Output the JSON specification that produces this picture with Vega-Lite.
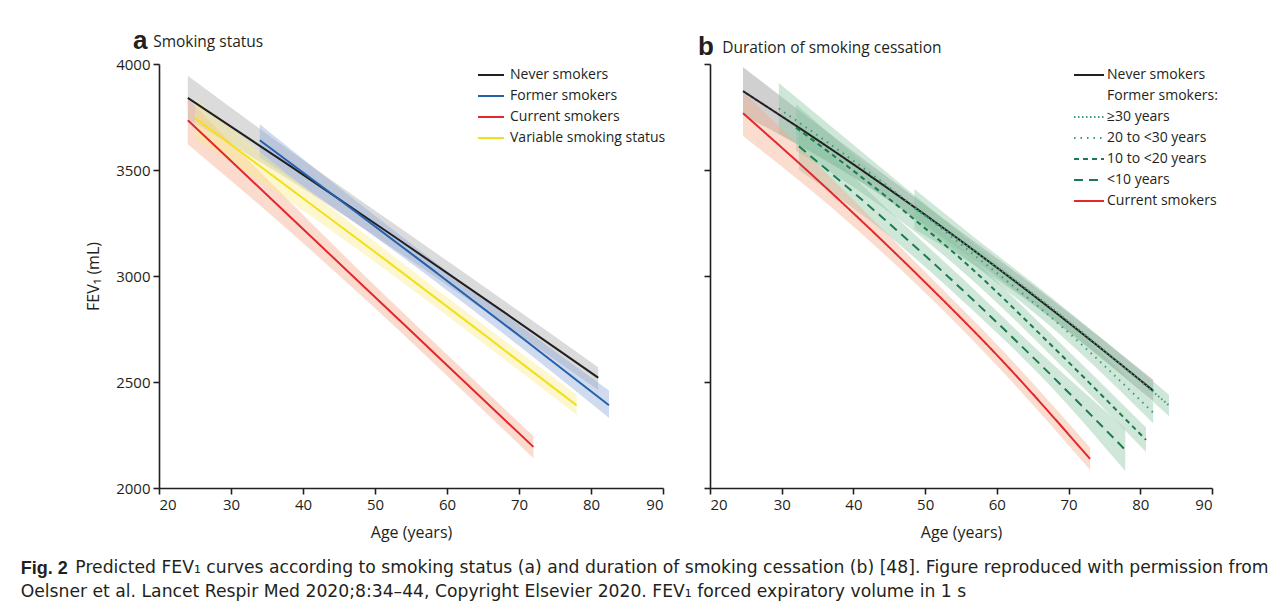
{
  "$schema": "https://vega.github.io/schema/vega-lite/v6.json",
  "padding": {"left": 20, "top": 28, "right": 5, "bottom": 5},
  "config": {
    "font": "Open Sans",
    "view": {"stroke": null},
    "axis": {"grid": false, "domainColor": "#231f20", "domainWidth": 1.6, "tickColor": "#231f20", "tickWidth": 1.6, "tickSize": 6, "labelFont": "Open Sans", "labelFontSize": 15, "labelColor": "#231f20", "titleFont": "Open Sans", "titleFontSize": 16, "titleFontWeight": "normal", "titleColor": "#231f20"},
    "legend": {"labelFont": "Open Sans", "labelFontSize": 14, "labelColor": "#231f20", "symbolSize": 100, "symbolStrokeWidth": 2, "rowPadding": 7, "labelOffset": 12}
  },
  "resolve": {"scale": {"fill": "independent", "stroke": "independent", "strokeDash": "independent"}},
  "datasets": {
    "a": [
      {"series": "Never smokers", "age": 24, "fev": 3840, "lo": 3740, "hi": 3945},
      {"series": "Never smokers", "age": 38.25, "fev": 3518, "lo": 3450, "hi": 3590},
      {"series": "Never smokers", "age": 52.5, "fev": 3190, "lo": 3130, "hi": 3250},
      {"series": "Never smokers", "age": 66.75, "fev": 2857, "lo": 2800, "hi": 2912},
      {"series": "Never smokers", "age": 81, "fev": 2520, "lo": 2462, "hi": 2570},
      {"series": "Former smokers", "age": 34, "fev": 3640, "lo": 3560, "hi": 3716},
      {"series": "Former smokers", "age": 46.1, "fev": 3334, "lo": 3280, "hi": 3388},
      {"series": "Former smokers", "age": 58.25, "fev": 3023, "lo": 2978, "hi": 3068},
      {"series": "Former smokers", "age": 70.4, "fev": 2709, "lo": 2660, "hi": 2760},
      {"series": "Former smokers", "age": 82.5, "fev": 2390, "lo": 2330, "hi": 2460},
      {"series": "Current smokers", "age": 24, "fev": 3735, "lo": 3622, "hi": 3835},
      {"series": "Current smokers", "age": 36, "fev": 3350, "lo": 3275, "hi": 3425},
      {"series": "Current smokers", "age": 48, "fev": 2965, "lo": 2910, "hi": 3020},
      {"series": "Current smokers", "age": 60, "fev": 2579, "lo": 2530, "hi": 2630},
      {"series": "Current smokers", "age": 72, "fev": 2194, "lo": 2140, "hi": 2245},
      {"series": "Variable smoking status", "age": 25, "fev": 3745, "lo": 3650, "hi": 3840},
      {"series": "Variable smoking status", "age": 38.25, "fev": 3411, "lo": 3350, "hi": 3470},
      {"series": "Variable smoking status", "age": 51.5, "fev": 3075, "lo": 3028, "hi": 3122},
      {"series": "Variable smoking status", "age": 64.75, "fev": 2734, "lo": 2690, "hi": 2778},
      {"series": "Variable smoking status", "age": 78, "fev": 2390, "lo": 2345, "hi": 2440}
    ],
    "b": [
      {"series": "Never smokers", "age": 24.6, "fev": 3872, "lo": 3760, "hi": 3986},
      {"series": "Never smokers", "age": 38.9, "fev": 3552, "lo": 3488, "hi": 3614},
      {"series": "Never smokers", "age": 53.2, "fev": 3210, "lo": 3164, "hi": 3254},
      {"series": "Never smokers", "age": 67.5, "fev": 2846, "lo": 2803, "hi": 2893},
      {"series": "Never smokers", "age": 81.8, "fev": 2459, "lo": 2410, "hi": 2511},
      {"series": "≥30 years", "age": 48.5, "fev": 3320, "lo": 3220, "hi": 3410},
      {"series": "≥30 years", "age": 57.4, "fev": 3105, "lo": 3040, "hi": 3168},
      {"series": "≥30 years", "age": 66.25, "fev": 2885, "lo": 2835, "hi": 2935},
      {"series": "≥30 years", "age": 75.1, "fev": 2645, "lo": 2600, "hi": 2692},
      {"series": "≥30 years", "age": 84, "fev": 2390, "lo": 2340, "hi": 2440},
      {"series": "20 to <30 years", "age": 29.6, "fev": 3790, "lo": 3670, "hi": 3910},
      {"series": "20 to <30 years", "age": 42.65, "fev": 3477, "lo": 3410, "hi": 3545},
      {"series": "20 to <30 years", "age": 55.7, "fev": 3130, "lo": 3080, "hi": 3180},
      {"series": "20 to <30 years", "age": 68.75, "fev": 2770, "lo": 2725, "hi": 2815},
      {"series": "20 to <30 years", "age": 81.8, "fev": 2355, "lo": 2305, "hi": 2405},
      {"series": "10 to <20 years", "age": 32, "fev": 3700, "lo": 3590, "hi": 3810},
      {"series": "10 to <20 years", "age": 44, "fev": 3390, "lo": 3325, "hi": 3455},
      {"series": "10 to <20 years", "age": 56, "fev": 3050, "lo": 2998, "hi": 3102},
      {"series": "10 to <20 years", "age": 68, "fev": 2660, "lo": 2610, "hi": 2712},
      {"series": "10 to <20 years", "age": 80.8, "fev": 2227, "lo": 2170, "hi": 2285},
      {"series": "<10 years", "age": 32.4, "fev": 3612, "lo": 3500, "hi": 3720},
      {"series": "<10 years", "age": 43.8, "fev": 3283, "lo": 3220, "hi": 3345},
      {"series": "<10 years", "age": 55.15, "fev": 2936, "lo": 2885, "hi": 2990},
      {"series": "<10 years", "age": 66.5, "fev": 2568, "lo": 2515, "hi": 2625},
      {"series": "<10 years", "age": 77.9, "fev": 2180, "lo": 2080, "hi": 2280},
      {"series": "Current smokers", "age": 24.6, "fev": 3768, "lo": 3660, "hi": 3870},
      {"series": "Current smokers", "age": 36.7, "fev": 3400, "lo": 3330, "hi": 3470},
      {"series": "Current smokers", "age": 48.8, "fev": 3010, "lo": 2960, "hi": 3060},
      {"series": "Current smokers", "age": 60.9, "fev": 2595, "lo": 2545, "hi": 2645},
      {"series": "Current smokers", "age": 73, "fev": 2137, "lo": 2085, "hi": 2190}
    ]
  },
  "title": {
    "text": "Fig. 2",
    "subtitle": ["\u200b\u00a0\u00a0\u00a0\u00a0\u00a0\u00a0\u00a0\u00a0\u00a0\u00a0Predicted FEV₁ curves according to smoking status (a) and duration of smoking cessation (b) [48]. Figure  reproduced with permission from", "Oelsner et al. Lancet Respir Med 2020;8:34–44, Copyright Elsevier 2020. FEV₁ forced expiratory volume in 1 s"],
    "orient": "bottom", "anchor": "start", "frame": "bounds", "dx": -65, "offset": 20,
    "font": "Liberation Sans", "fontSize": 18, "fontWeight": "bold", "color": "#231f20",
    "subtitleFont": "DejaVu Sans", "subtitleFontSize": 17.2, "subtitleColor": "#231f20", "subtitlePadding": -19, "subtitleLineHeight": 24
  },
  "hconcat": [
    {
      "width": 504, "height": 424,
      "title": {"text": "a", "subtitle": "\u200b\u00a0\u00a0\u00a0\u00a0\u00a0Smoking status", "anchor": "start", "frame": "group", "dx": -26, "offset": 3, "fontSize": 26, "fontWeight": "bold", "font": "Liberation Sans", "color": "#231f20", "subtitleFont": "Open Sans", "subtitleFontSize": 15.5, "subtitleColor": "#231f20", "subtitlePadding": -19},
      "data": {"name": "a"},
      "layer": [
        {
          "mark": {"type": "area", "opacity": 0.42, "interpolate": "monotone"},
          "encoding": {
            "x": {"field": "age", "type": "quantitative", "scale": {"domain": [20, 90], "nice": false, "zero": false}, "axis": {"values": [20, 30, 40, 50, 60, 70, 80, 90], "title": "Age (years)", "labelPadding": 3, "titlePadding": 12}},
            "y": {"field": "lo", "type": "quantitative", "scale": {"domain": [2000, 4000], "nice": false, "zero": false}, "axis": {"values": [2000, 2500, 3000, 3500, 4000], "format": "d", "title": "FEV₁ (mL)", "labelPadding": 3, "titlePadding": 14}},
            "y2": {"field": "hi"},
            "fill": {"field": "series", "type": "nominal", "scale": {"domain": ["Variable smoking status", "Current smokers", "Former smokers", "Never smokers", "Band"], "range": ["#f7ec8a", "#f5a98a", "#8eaadb", "#a9a9a9", "#ffffff"]}, "legend": null}
          }
        },
        {
          "mark": {"type": "line", "strokeWidth": 2, "interpolate": "monotone"},
          "encoding": {
            "x": {"field": "age", "type": "quantitative"},
            "y": {"field": "fev", "type": "quantitative"},
            "stroke": {"field": "series", "type": "nominal", "scale": {"domain": ["Never smokers", "Former smokers", "Current smokers", "Variable smoking status"], "range": ["#231f20", "#2361ad", "#e2282c", "#f3df1a"]}, "legend": {"title": null, "orient": "none", "legendX": 325, "legendY": 4, "symbolType": "M-2.6,0H2.6"}}
          }
        }
      ]
    },
    {
      "width": 502, "height": 424,
      "title": {"text": "b", "subtitle": "\u200b\u00a0\u00a0\u00a0\u00a0\u00a0\u00a0Duration of smoking cessation", "anchor": "start", "frame": "group", "dx": -12, "offset": 3, "fontSize": 26, "fontWeight": "bold", "font": "Liberation Sans", "color": "#231f20", "subtitleFont": "Open Sans", "subtitleFontSize": 15.5, "subtitleColor": "#231f20", "subtitlePadding": -19},
      "data": {"name": "b"},
      "layer": [
        {
          "mark": {"type": "area", "opacity": 0.4, "interpolate": "monotone"},
          "encoding": {
            "x": {"field": "age", "type": "quantitative", "scale": {"domain": [20, 90], "nice": false, "zero": false}, "axis": {"values": [20, 30, 40, 50, 60, 70, 80, 90], "title": "Age (years)", "labelPadding": 3, "titlePadding": 12}},
            "y": {"field": "lo", "type": "quantitative", "scale": {"domain": [2000, 4000], "nice": false, "zero": false}, "axis": {"values": [2000, 2500, 3000, 3500, 4000], "title": null, "labels": false}},
            "y2": {"field": "hi"},
            "fill": {"field": "series", "type": "nominal", "scale": {"domain": ["Never smokers", "≥30 years", "20 to <30 years", "10 to <20 years", "<10 years", "Current smokers"], "range": ["#8a8a8a", "#86c4a0", "#86c4a0", "#86c4a0", "#86c4a0", "#f5a98a"]}, "legend": null}
          }
        },
        {
          "mark": {"type": "line", "strokeWidth": 2, "interpolate": "monotone"},
          "encoding": {
            "x": {"field": "age", "type": "quantitative"},
            "y": {"field": "fev", "type": "quantitative"},
            "stroke": {"field": "series", "type": "nominal", "scale": {"domain": ["Never smokers", "Former smokers:", "≥30 years", "20 to <30 years", "10 to <20 years", "<10 years", "Current smokers"], "range": ["#231f20", "rgba(0,0,0,0)", "#3f9a7a", "#3f9a7a", "#1a7a50", "#1a7a50", "#e2282c"]}, "legend": {"title": null, "orient": "none", "legendX": 372, "legendY": 4, "symbolType": "M-3,0H3", "labelOffset": 11}},
            "strokeDash": {"field": "series", "type": "nominal", "scale": {"domain": ["Never smokers", "Former smokers:", "≥30 years", "20 to <30 years", "10 to <20 years", "<10 years", "Current smokers"], "range": [[1, 0], [1, 0], [1.5, 2.5], [1.5, 5], [5, 4], [9, 6], [1, 0]]}, "legend": {"title": null, "orient": "none", "legendX": 372, "legendY": 4, "symbolType": "M-3,0H3", "labelOffset": 11}}
          }
        }
      ]
    }
  ],
  "spacing": 32
}
